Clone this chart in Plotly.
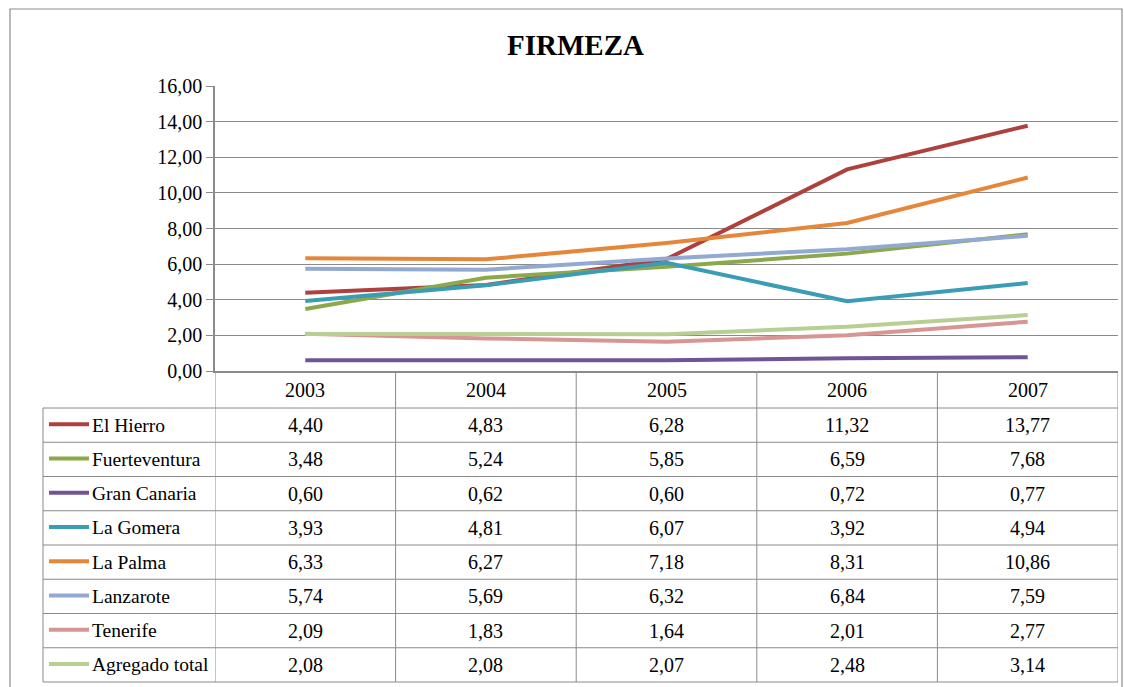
import plotly.graph_objects as go

years = ["2003", "2004", "2005", "2006", "2007"]
series_names = ["El Hierro", "Fuerteventura", "Gran Canaria", "La Gomera",
                "La Palma", "Lanzarote", "Tenerife", "Agregado total"]
el_hierro = [4.40, 4.83, 6.28, 11.32, 13.77]
fuerteventura = [3.48, 5.24, 5.85, 6.59, 7.68]
gran_canaria = [0.60, 0.62, 0.60, 0.72, 0.77]
la_gomera = [3.93, 4.81, 6.07, 3.92, 4.94]
la_palma = [6.33, 6.27, 7.18, 8.31, 10.86]
lanzarote = [5.74, 5.69, 6.32, 6.84, 7.59]
tenerife = [2.09, 1.83, 1.64, 2.01, 2.77]
agregado = [2.08, 2.08, 2.07, 2.48, 3.14]
values = [el_hierro, fuerteventura, gran_canaria, la_gomera,
          la_palma, lanzarote, tenerife, agregado]
colors = ["#AE413E", "#8BA84A", "#6F5598", "#3A9DB5",
          "#E5873A", "#92A9D2", "#D79593", "#B7CF93"]
y_ticks = [0, 2, 4, 6, 8, 10, 12, 14, 16]

W, H = 1124, 687
OX, OY = 0, 0


def px(x):
    return min(1.0, max(0.0, (x - OX) / W))


def py(y):
    return 1 - (y - OY) / H


FONT = "Liberation Serif"
GRID = "#8a8a8a"

x_left, x_right = 215, 1118
y_top, y_bot = 86, 371

fig = go.Figure()
xs = list(range(len(years)))
for name, vals, c in zip(series_names, values, colors):
    fig.add_trace(go.Scatter(x=xs, y=vals, mode="lines", name=name,
                             line=dict(color=c, width=4), showlegend=False))

shapes = []
annotations = []

# outer chart border
shapes.append(dict(type="rect", xref="paper", yref="paper",
                   x0=px(10), x1=px(1122), y0=-0.2, y1=py(9),
                   line=dict(color="#8c8c8c", width=1.2)))

# table
row_top = 408
row_bot = 682
n = len(series_names)
row_h = (row_bot - row_top) / n
tbl_left = 43
shapes.append(dict(type="line", xref="paper", yref="paper",
                   x0=px(tbl_left), x1=px(x_right), y0=py(row_top), y1=py(row_top),
                   line=dict(color=GRID, width=1)))
for i in range(1, n + 1):
    yy = row_top + i * row_h
    shapes.append(dict(type="line", xref="paper", yref="paper",
                       x0=px(tbl_left), x1=px(x_right), y0=py(yy), y1=py(yy),
                       line=dict(color=GRID, width=1)))
shapes.append(dict(type="line", xref="paper", yref="paper",
                   x0=px(tbl_left), x1=px(tbl_left), y0=py(row_top), y1=py(row_bot),
                   line=dict(color=GRID, width=1)))
for k in range(len(years) + 1):
    shapes.append(dict(type="line", xref="x", yref="paper",
                       x0=k - 0.5, x1=k - 0.5, y0=py(y_bot), y1=py(row_bot),
                       line=dict(color=GRID, width=1)))

for k, yr in enumerate(years):
    annotations.append(dict(x=k, y=py((y_bot + row_top) / 2), xref="x", yref="paper",
                            text=yr, showarrow=False, xanchor="center", yanchor="middle",
                            font=dict(family=FONT, size=20, color="black")))

for i, (name, vals, c) in enumerate(zip(series_names, values, colors)):
    cy = row_top + (i + 0.5) * row_h
    shapes.append(dict(type="line", xref="paper", yref="paper",
                       x0=px(49), x1=px(89), y0=py(cy - 1), y1=py(cy - 1),
                       line=dict(color=c, width=4)))
    annotations.append(dict(x=px(90), y=py(cy), xref="paper", yref="paper",
                            text=name, showarrow=False, xanchor="left", yanchor="middle",
                            font=dict(family=FONT, size=19.5, color="black")))
    for k, v in enumerate(vals):
        annotations.append(dict(x=k, y=py(cy), xref="x", yref="paper",
                                text=f"{v:.2f}".replace(".", ","), showarrow=False,
                                xanchor="center", yanchor="middle",
                                font=dict(family=FONT, size=20, color="black")))

annotations.append(dict(x=px(575), y=py(45), xref="paper", yref="paper",
                        text="<b>FIRMEZA</b>", showarrow=False, xanchor="center",
                        yanchor="middle", font=dict(family=FONT, size=29, color="black")))

fig.update_layout(
    width=W, height=H,
    margin=dict(l=0, r=0, t=0, b=0, autoexpand=False),
    paper_bgcolor="white", plot_bgcolor="white",
    separators=", ",
    shapes=shapes, annotations=annotations,
    xaxis=dict(domain=[px(x_left), px(x_right)], range=[-0.5, len(years) - 0.5],
               showticklabels=False, showgrid=False, zeroline=False, automargin=False,
               showline=True, linecolor=GRID, linewidth=1.5, ticks="", fixedrange=True),
    yaxis=dict(domain=[py(y_bot), py(y_top)], range=[0, 16], tickvals=y_ticks,
               tickformat=".2f", showgrid=True, gridcolor=GRID, gridwidth=1.2,
               zeroline=False, showline=True, linecolor=GRID, linewidth=1.5, automargin=False,
               ticks="outside", ticklen=7, tickcolor=GRID,
               tickfont=dict(family=FONT, size=20, color="black"), fixedrange=True),
)

fig.write_html(
    "out.html",
    config={"displayModeBar": False},
    post_script="document.body.style.margin='0';document.body.style.overflow='hidden';",
)
